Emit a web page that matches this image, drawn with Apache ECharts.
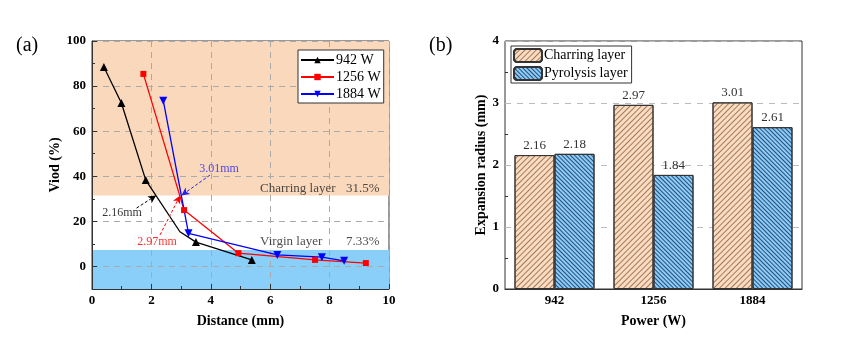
<!DOCTYPE html>
<html><head><meta charset="utf-8">
<script src="https://cdn.jsdelivr.net/npm/echarts@6/dist/echarts.min.js"></script>
<style>html,body{margin:0;padding:0;background:#fff}#c{width:865px;height:348px}</style>
</head><body><div id="c"></div>
<script>
// ---- Data (a) ----
const dist942 = [0.40, 0.99, 1.81, 2.96, 3.50, 5.38];
const void942 = [88.5, 72.5, 38.3, 15.4, 10.8, 2.9];
const mark942 = [true, true, true, false, true, true];
const dist1256 = [1.73, 3.10, 4.93, 7.51, 9.22];
const void1256 = [85.4, 25.0, 5.9, 2.9, 1.5];
const dist1884 = [2.40, 3.25, 6.24, 7.74, 8.49];
const void1884 = [73.5, 14.7, 5.1, 4.1, 2.5];
const charringLevel = 31.5;
const virginLevel = 7.33;
const radiusNames = ['2.16mm', '2.97mm', '3.01mm'];
const radiusValues = [2.16, 2.97, 3.01];
// ---- Data (b) ----
const powers = ['942', '1256', '1884'];
const charring = [2.16, 2.97, 3.01];
const pyrolysis = [2.18, 1.84, 2.61];

const SERIF = '"Liberation Serif", "Times New Roman", serif';
const pair = (xs, ys) => xs.map((x, i) => [x, ys[i]]);

const chart = echarts.init(document.getElementById('c'), null, {renderer: 'canvas'});

const d942 = pair(dist942, void942).map((p, i) => mark942[i] ? p : {value: p, symbol: 'none'});

// annotation anchors (label placement in data space)
const annot = [
  {name: radiusNames[0], color: '#000', text: [1.01, 23.8], from: [1.5, 25.9]},
  {name: radiusNames[1], color: '#ff0000', text: [2.19, 11.0], from: [2.29, 14.0]},
  {name: radiusNames[2], color: '#2222ee', text: [4.28, 43.1], from: [3.97, 40.5]}
];

const axisLineStyle = {onZero: false, lineStyle: {color: '#333', width: 1}};
const gridSplit = {show: true, lineStyle: {color: '#aaa', type: [6, 5], width: 1}};

const option = {
  animation: false,
  backgroundColor: '#fff',
  title: [
    {text: '(a)', left: 11, top: 31, textStyle: {fontFamily: SERIF, fontWeight: 'normal', fontSize: 20, color: '#000'}},
    {text: '(b)', left: 424, top: 31, textStyle: {fontFamily: SERIF, fontWeight: 'normal', fontSize: 20, color: '#000'}}
  ],
  grid: [
    {left: 92, right: 476, top: 41, bottom: 59, show: true, borderColor: '#333', borderWidth: 1, backgroundColor: 'transparent'},
    {left: 505, right: 63, top: 41, bottom: 59, show: true, borderColor: '#333', borderWidth: 1, backgroundColor: 'transparent'}
  ],
  legend: [
    {
      data: ['942 W', '1256 W', '1884 W'], orient: 'vertical', left: 298, top: 50,
      itemWidth: 33, itemHeight: 8, itemGap: 3, padding: [3, 3, 2, 2],
      backgroundColor: '#fff', borderColor: '#333', borderWidth: 1, borderRadius: 0,
      textStyle: {fontFamily: SERIF, fontSize: 14, color: '#000', padding: [0, 0, 0, -3]}
    },
    {
      data: ['Charring layer', 'Pyrolysis layer'], orient: 'vertical', left: 511, top: 46,
      itemWidth: 28, itemHeight: 13, itemGap: 3, padding: [2, 4, 2, 2],
      backgroundColor: '#fff', borderColor: '#333', borderWidth: 1, borderRadius: 0,
      textStyle: {fontFamily: SERIF, fontSize: 14, color: '#000', padding: [0, 0, 0, -3]}
    }
  ],
  xAxis: [
    {
      gridIndex: 0, type: 'value', min: 0, max: 10, interval: 2, z: 1,
      name: 'Distance (mm)', nameLocation: 'middle', nameGap: 25,
      nameTextStyle: {fontFamily: SERIF, fontWeight: 'bold', fontSize: 14, color: '#000'},
      axisLine: axisLineStyle,
      axisTick: {inside: true, length: 5, lineStyle: {color: '#333'}},
      minorTick: {show: true, splitNumber: 2, length: 3, lineStyle: {color: '#333'}},
      axisLabel: {fontFamily: SERIF, fontWeight: 'bold', fontSize: 13, color: '#000', margin: 5},
      splitLine: gridSplit
    },
    {
      gridIndex: 1, type: 'category', data: powers,
      name: 'Power (W)', nameLocation: 'middle', nameGap: 25,
      nameTextStyle: {fontFamily: SERIF, fontWeight: 'bold', fontSize: 14, color: '#000'},
      axisLine: axisLineStyle,
      axisTick: {inside: true, length: 4, lineStyle: {color: '#333'}},
      axisLabel: {fontFamily: SERIF, fontWeight: 'bold', fontSize: 13, color: '#000', margin: 5},
      splitLine: {show: false}
    }
  ],
  yAxis: [
    {
      gridIndex: 0, type: 'value', min: -10, max: 100, splitNumber: 5, z: 1,
      name: 'Viod (%)', nameLocation: 'middle', nameGap: 27,
      nameTextStyle: {fontFamily: SERIF, fontWeight: 'bold', fontSize: 14, color: '#000'},
      axisLine: axisLineStyle,
      axisTick: {inside: true, length: 5, lineStyle: {color: '#333'}},
      minorTick: {show: true, splitNumber: 2, length: 3, lineStyle: {color: '#333'}},
      axisLabel: {fontFamily: SERIF, fontWeight: 'bold', fontSize: 13, color: '#000', margin: 6, showMinLabel: false},
      splitLine: gridSplit
    },
    {
      gridIndex: 1, type: 'value', min: 0, max: 4, interval: 1,
      name: 'Expansion radius (mm)', nameLocation: 'middle', nameGap: 13,
      nameTextStyle: {fontFamily: SERIF, fontWeight: 'bold', fontSize: 14, color: '#000'},
      axisLine: axisLineStyle,
      axisTick: {inside: true, length: 5, lineStyle: {color: '#333'}},
      minorTick: {show: true, splitNumber: 2, length: 3, lineStyle: {color: '#333'}},
      axisLabel: {fontFamily: SERIF, fontWeight: 'bold', fontSize: 13, color: '#000', margin: 6},
      splitLine: {show: true, lineStyle: {color: '#bbb', type: [6, 6], width: 1}}
    }
  ],
  series: [
    {
      name: 'shade', type: 'line', xAxisIndex: 0, yAxisIndex: 0, data: [], z: 0, silent: true,
      markArea: {
        silent: true, z: 0,
        data: [
          [{yAxis: charringLevel, itemStyle: {color: '#F9D8BC'}}, {yAxis: 100}],
          [{yAxis: -10, itemStyle: {color: '#8ACFF9'}}, {yAxis: virginLevel}]
        ]
      }
    },
    {
      name: '942 W', type: 'line', xAxisIndex: 0, yAxisIndex: 0, z: 3, data: d942,
      symbol: 'triangle', symbolSize: 8, color: '#000',
      lineStyle: {color: '#000', width: 1.3}, itemStyle: {color: '#000'}
    },
    {
      name: '1256 W', type: 'line', xAxisIndex: 0, yAxisIndex: 0, z: 3, data: pair(dist1256, void1256),
      symbol: 'rect', symbolSize: 6, color: '#ff0000',
      lineStyle: {color: '#ff0000', width: 1.3}, itemStyle: {color: '#ff0000'}
    },
    {
      name: '1884 W', type: 'line', xAxisIndex: 0, yAxisIndex: 0, z: 3, data: pair(dist1884, void1884),
      symbol: 'triangle', symbolRotate: 180, symbolSize: 8, color: '#0000ff',
      lineStyle: {color: '#0000ff', width: 1.3}, itemStyle: {color: '#0000ff'}
    },
    {
      name: 'annot', type: 'scatter', xAxisIndex: 0, yAxisIndex: 0, z: 4, symbolSize: 0, silent: true,
      data: annot.map(a => ({name: a.name, value: a.text, label: {color: a.color}})),
      label: {show: true, position: 'inside', formatter: '{b}', fontFamily: SERIF, fontSize: 12},
      markLine: {
        silent: true, symbol: ['none', 'arrow'], symbolSize: [6, 8],
        label: {show: false},
        data: annot.map((a, i) => [
          {coord: a.from, lineStyle: {color: a.color, type: [3, 2], width: 1}, itemStyle: {color: a.color}},
          {coord: [radiusValues[i], charringLevel]}
        ])
      }
    },
    {
      name: 'layers', type: 'scatter', xAxisIndex: 0, yAxisIndex: 0, z: 4, symbolSize: 0, silent: true,
      data: [
        {name: 'Charring layer', value: [5.66, charringLevel + 2.9], label: {position: 'right', distance: 0}},
        {name: charringLevel + '%', value: [9.68, charringLevel + 2.9], label: {position: 'left', distance: 0}},
        {name: 'Virgin layer', value: [5.66, virginLevel + 3.8], label: {position: 'right', distance: 0}},
        {name: virginLevel + '%', value: [9.68, virginLevel + 3.8], label: {position: 'left', distance: 0}}
      ],
      label: {show: true, formatter: '{b}', fontFamily: SERIF, fontSize: 13, color: '#222'}
    },
    {
      name: 'Charring layer', type: 'bar', xAxisIndex: 1, yAxisIndex: 1, data: charring,
      barWidth: 40, barGap: '0%',
      itemStyle: {
        color: '#FCDCC0', borderColor: '#333', borderWidth: 1,
        decal: {symbol: 'rect', symbolSize: 1, dashArrayX: [1, 0], dashArrayY: [1, 2.2], rotation: -Math.PI / 4, color: 'rgba(120,80,50,0.7)'}
      },
      label: {show: true, position: 'top', distance: 3, fontFamily: SERIF, fontSize: 13, color: '#333'}
    },
    {
      name: 'Pyrolysis layer', type: 'bar', xAxisIndex: 1, yAxisIndex: 1, data: pyrolysis,
      barWidth: 40, barGap: '0%',
      itemStyle: {
        color: '#87CEFA', borderColor: '#333', borderWidth: 1,
        decal: {symbol: 'rect', symbolSize: 1, dashArrayX: [1, 0], dashArrayY: [1, 1.7], rotation: Math.PI / 4, color: 'rgba(20,30,70,0.75)'}
      },
      label: {show: true, position: 'top', distance: 3, fontFamily: SERIF, fontSize: 13, color: '#333'}
    }
  ]
};
chart.setOption(option);
</script></body></html>
